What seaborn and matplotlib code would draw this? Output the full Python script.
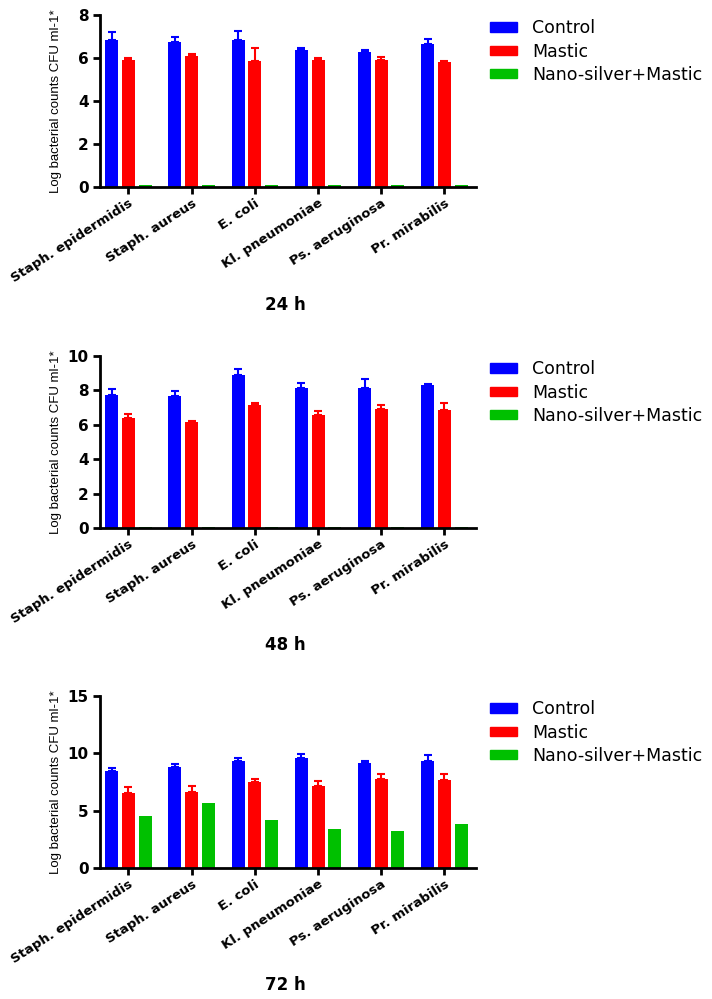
import matplotlib
matplotlib.use("Agg")
import matplotlib.pyplot as plt
import matplotlib.patches as mpatches
import seaborn as sns
import pandas as pd

organisms = ["Staph. epidermidis", "Staph. aureus", "E. coli",
             "Kl. pneumoniae", "Ps. aeruginosa", "Pr. mirabilis"]
groups = ["Control", "Mastic", "Nano-silver+Mastic"]
colors = ["#0000FF", "#FF0000", "#00C000"]

# 24 h
control24 = [6.85, 6.74, 6.85, 6.35, 6.30, 6.66]
control24_err = [0.36, 0.22, 0.42, 0.11, 0.07, 0.22]
mastic24 = [5.92, 6.10, 5.84, 5.93, 5.93, 5.81]
mastic24_err = [0.06, 0.08, 0.62, 0.07, 0.13, 0.06]
nano24 = [0.08, 0.08, 0.08, 0.08, 0.08, 0.08]
nano24_err = [0, 0, 0, 0, 0, 0]

# 48 h
control48 = [7.75, 7.66, 8.88, 8.16, 8.16, 8.30]
control48_err = [0.31, 0.29, 0.36, 0.29, 0.53, 0.10]
mastic48 = [6.41, 6.14, 7.13, 6.59, 6.94, 6.88]
mastic48_err = [0.22, 0.06, 0.16, 0.19, 0.23, 0.41]
nano48 = [0.08, 0.08, 0.08, 0.08, 0.08, 0.08]
nano48_err = [0, 0, 0, 0, 0, 0]

# 72 h
control72 = [8.45, 8.77, 9.32, 9.55, 9.15, 9.35]
control72_err = [0.23, 0.29, 0.23, 0.38, 0.20, 0.47]
mastic72 = [6.55, 6.64, 7.49, 7.17, 7.75, 7.69]
mastic72_err = [0.53, 0.53, 0.23, 0.46, 0.41, 0.47]
nano72 = [4.54, 5.68, 4.17, 3.44, 3.23, 3.85]
nano72_err = [0, 0, 0, 0, 0, 0]

titles = ["24 h", "48 h", "72 h"]
yticks_list = [[0, 2, 4, 6, 8], [0, 2, 4, 6, 8, 10], [0, 5, 10, 15]]
ylims = [(0, 8), (0, 10), (0, 15)]

panels = [
    ([control24, mastic24, nano24], [control24_err, mastic24_err, nano24_err]),
    ([control48, mastic48, nano48], [control48_err, mastic48_err, nano48_err]),
    ([control72, mastic72, nano72], [control72_err, mastic72_err, nano72_err]),
]

sns.set_theme(style="ticks")
plt.rcParams["font.family"] = ["DejaVu Sans"]
plt.rcParams["text.color"] = "black"
plt.rcParams["axes.labelcolor"] = "black"
plt.rcParams["xtick.color"] = "black"
plt.rcParams["ytick.color"] = "black"

fig = plt.figure(figsize=(7.12, 9.99), dpi=100)

W, H = 712, 999
ax_left, ax_right = 100, 476
ax_tops = [15, 356, 696]
ax_bottoms = [187, 528, 868]
title_y = [305, 645, 985]

for i, (vals, errs) in enumerate(panels):
    ax = fig.add_axes([ax_left / W, 1 - ax_bottoms[i] / H,
                       (ax_right - ax_left) / W, (ax_bottoms[i] - ax_tops[i]) / H])
    rows = []
    for g, series in zip(groups, vals):
        for org, v in zip(organisms, series):
            rows.append({"organism": org, "group": g, "value": v})
    df = pd.DataFrame(rows)
    sns.barplot(data=df, x="organism", y="value", hue="group",
                order=organisms, hue_order=groups, palette=colors,
                saturation=1, width=0.79, gap=0.22, errorbar=None,
                legend=False, linewidth=0, ax=ax)
    for container, errset, col in zip(ax.containers, errs, colors):
        for bar, e in zip(container, errset):
            if e <= 0:
                continue
            x = bar.get_x() + bar.get_width() / 2
            h = bar.get_height()
            ax.errorbar([x], [h], yerr=[[0], [e]], fmt="none", ecolor=col,
                        elinewidth=1.5, capsize=2.6, capthick=1.5, zorder=3)
    ax.set_xlim(-0.45, 5.5)
    ax.set_ylim(*ylims[i])
    ax.set_yticks(yticks_list[i])
    ax.set_xlabel("")
    ax.set_ylabel("Log bacterial counts CFU ml-1*", fontsize=9.5, color="black",
                  family=["Liberation Sans", "DejaVu Sans"])
    ax.yaxis.set_label_coords(-0.1, 0.5)
    for s in ["top", "right"]:
        ax.spines[s].set_visible(False)
    for s in ["left", "bottom"]:
        ax.spines[s].set_linewidth(2)
        ax.spines[s].set_color("black")
    ax.tick_params(axis="both", width=2, length=5, color="black", labelcolor="black")
    ax.tick_params(axis="y", labelsize=11, pad=3)
    ax.tick_params(axis="x", labelsize=9.5, pad=2)
    for lab in ax.get_yticklabels():
        lab.set_fontweight("bold")
    for lab in ax.get_xticklabels():
        lab.set_fontweight("bold")
        lab.set_rotation(33)
        lab.set_ha("right")
        lab.set_rotation_mode("anchor")
    handles = [mpatches.Patch(color=c, label=g) for g, c in zip(groups, colors)]
    ax.legend(handles=handles, loc="upper left", bbox_to_anchor=(1.02, 1.015),
              frameon=False, fontsize=12.5, handlelength=1.55, handleheight=0.46,
              labelspacing=0.3, handletextpad=0.85, borderaxespad=0,
              labelcolor="black")
    fig.text(285 / W, 1 - title_y[i] / H, titles[i], fontsize=12,
             fontweight="bold", ha="center", va="center", color="black")

fig.savefig("out.png", dpi=100)
